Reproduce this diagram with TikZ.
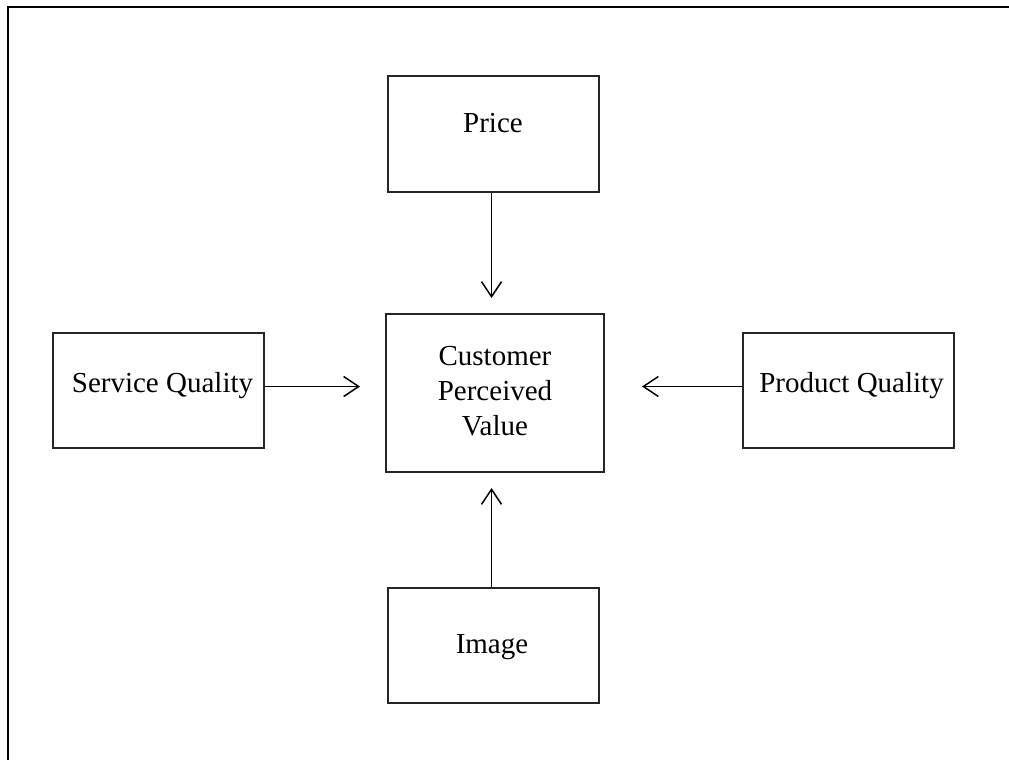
\documentclass[tikz,border=0pt]{standalone}
\usepackage{fontspec}
\setmainfont{Liberation Serif}
\usetikzlibrary{arrows.meta}
\begin{document}
\begin{tikzpicture}[x=1pt,y=-1pt,
  box/.style={draw=black!85, line width=1.8pt, rectangle, inner sep=0pt},
  txt/.style={inner sep=0pt, anchor=base, font=\fontsize{29}{35}\selectfont},
  conn/.style={line width=1.5pt, -{Straight Barb[length=15pt,width=20pt,line width=1.5pt]}}]
\useasboundingbox (0,0) rectangle (1009,760);
% frame
\coordinate (fa) at (8,760);
\coordinate (fb) at (8,7);
\coordinate (fc) at (1009,7);
\draw[line width=2pt] (fa) -- (fb) -- (fc);
% boxes
\node[box, minimum width=211pt, minimum height=116pt] (price) at (493.5,134) {};
\node[box, minimum width=218pt, minimum height=158pt] (cpv) at (495,393) {};
\node[box, minimum width=211pt, minimum height=115pt] (sq) at (158.5,390.5) {};
\node[box, minimum width=211pt, minimum height=115pt] (pq) at (848.5,390.5) {};
\node[box, minimum width=211pt, minimum height=115pt] (img) at (493.5,645.5) {};
% texts
\node[txt] (pricet) at (493,132) {Price};
\node[txt] (cpv1) at (495,365) {Customer};
\node[txt] (cpv2) at (495,400) {Perceived};
\node[txt] (cpv3) at (495,435) {Value};
\node[txt] (sqt) at (162.5,392) {Service Quality};
\node[txt] (pqt) at (851.5,392) {Product Quality};
\node[txt] (imgt) at (492,653) {Image};
% connectors
\coordinate (pout) at ([xshift=-2pt]price.south);
\coordinate (pin) at (pout |- 0,298);
\draw[conn] (pout) -- (pin);
\coordinate (sout) at ([yshift=4pt]sq.east);
\coordinate (sin) at (360,0 |- sout);
\draw[conn] (sout) -- (sin);
\coordinate (qout) at ([yshift=4pt]pq.west);
\coordinate (qin) at (642,0 |- qout);
\draw[conn] (qout) -- (qin);
\coordinate (iout) at ([xshift=-2pt]img.north);
\coordinate (iin) at (iout |- 0,488);
\draw[conn] (iout) -- (iin);
\end{tikzpicture}
\end{document}
